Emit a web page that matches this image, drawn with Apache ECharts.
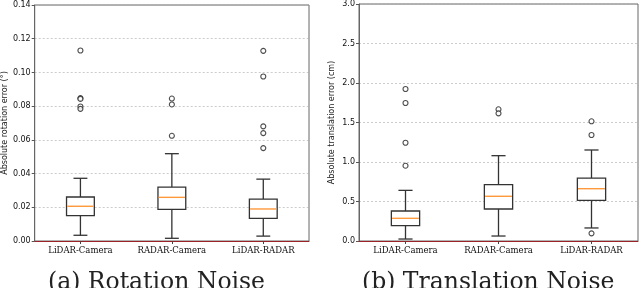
<!DOCTYPE html>
<html><head><meta charset="utf-8">
<script src="https://cdn.jsdelivr.net/npm/echarts@6/dist/echarts.min.js"></script>
<style>html,body{margin:0;padding:0;background:#fff}#c{width:640px;height:288px}</style>
</head><body><div id="c"></div>
<script>
var categories = ['LiDAR-Camera', 'RADAR-Camera', 'LiDAR-RADAR'];
// [lower whisker, Q1, median, Q3, upper whisker]
var rotStats = [
  [0.0034, 0.0151, 0.0206, 0.0261, 0.0372],
  [0.0016, 0.0188, 0.0259, 0.0320, 0.0518],
  [0.0029, 0.0134, 0.0190, 0.0249, 0.0367]
];
var rotOutliers = [
  [0, 0.1130], [0, 0.0848], [0, 0.0843], [0, 0.0798], [0, 0.0784],
  [1, 0.0845], [1, 0.0810], [1, 0.0624],
  [2, 0.1128], [2, 0.0976], [2, 0.0680], [2, 0.0640], [2, 0.0551]
];
var transStats = [
  [0.025, 0.194, 0.287, 0.380, 0.641],
  [0.063, 0.405, 0.566, 0.713, 1.080],
  [0.165, 0.515, 0.662, 0.797, 1.152]
];
var transOutliers = [
  [0, 1.924], [0, 1.747], [0, 1.244], [0, 0.953],
  [1, 1.667], [1, 1.616],
  [2, 1.515], [2, 1.342], [2, 0.097]
];
var rotTicks = [0, 0.02, 0.04, 0.06, 0.08, 0.10, 0.12, 0.14];
var transTicks = [0, 0.5, 1.0, 1.5, 2.0, 2.5, 3.0];

var chart = echarts.init(document.getElementById('c'), null, {renderer: 'canvas'});

function boxRender(params, api) {
  var i = api.value(0);
  var lo = api.coord([i, api.value(1)]);
  var q1 = api.coord([i, api.value(2)]);
  var md = api.coord([i, api.value(3)]);
  var q3 = api.coord([i, api.value(4)]);
  var hi = api.coord([i, api.value(5)]);
  var band = api.size([1, 0])[0];
  var bw = band * 0.152;
  var cw = band * 0.076;
  var x = lo[0];
  var ls = {stroke: '#333', lineWidth: 1.3, fill: null};
  return {
    type: 'group',
    children: [
      {type: 'line', shape: {x1: x, y1: lo[1], x2: x, y2: q1[1]}, style: ls},
      {type: 'line', shape: {x1: x, y1: q3[1], x2: x, y2: hi[1]}, style: ls},
      {type: 'line', shape: {x1: x - cw, y1: lo[1], x2: x + cw, y2: lo[1]}, style: ls},
      {type: 'line', shape: {x1: x - cw, y1: hi[1], x2: x + cw, y2: hi[1]}, style: ls},
      {type: 'rect', shape: {x: x - bw, y: q3[1], width: 2 * bw, height: q1[1] - q3[1]}, style: {stroke: '#333', lineWidth: 1.3, fill: '#fff'}},
      {type: 'line', shape: {x1: x - bw + 0.7, y1: md[1], x2: x + bw - 0.7, y2: md[1]}, style: {stroke: '#ff9a3c', lineWidth: 1.4}}
    ]
  };
}

function withIndex(stats) {
  return stats.map(function (s, i) { return [i].concat(s); });
}

function yAxis(grid, max, interval, name, fmt) {
  return {
    gridIndex: grid, type: 'value', min: 0, max: max, interval: interval,
    name: name, nameLocation: 'middle', nameGap: grid === 0 ? 24 : 23,
    nameTextStyle: {fontFamily: 'DejaVu Sans', fontSize: 8, color: '#222'},
    axisLine: {show: true, lineStyle: {color: '#666', width: 1}},
    axisTick: {show: true, length: 3, lineStyle: {color: '#555'}},
    axisLabel: {fontFamily: 'DejaVu Sans', fontSize: 8, color: '#111', margin: 4, formatter: fmt},
    splitLine: {show: true, lineStyle: {color: '#aaa', type: [2, 2], width: 0.6}}
  };
}

function xAxis(grid) {
  return {
    gridIndex: grid, type: 'category', data: categories,
    axisLine: {show: true, onZero: false, lineStyle: {color: '#9b2226', width: 1}},
    axisTick: {show: true, alignWithLabel: true, length: 3, lineStyle: {color: '#444'}},
    axisLabel: {fontFamily: 'DejaVu Serif', fontSize: 8.5, color: '#111', margin: 5, interval: 0},
    splitLine: {show: false}
  };
}

chart.setOption({
  animation: false,
  grid: [
    {left: 33, top: 5, width: 276, height: 236, show: true, borderColor: '#666', borderWidth: 1},
    {left: 359, top: 4, width: 279, height: 237, show: true, borderColor: '#666', borderWidth: 1}
  ],
  xAxis: [xAxis(0), xAxis(1)],
  yAxis: [
    yAxis(0, 0.14, 0.02, 'Absolute rotation error (°)', function (v) { return v.toFixed(2); }),
    yAxis(1, 3.0, 0.5, 'Absolute translation error (cm)', function (v) { return v.toFixed(1); })
  ],
  series: [
    {type: 'custom', xAxisIndex: 0, yAxisIndex: 0, renderItem: boxRender, data: withIndex(rotStats), encode: {x: 0, y: [1, 2, 3, 4, 5]}, z: 3},
    {type: 'custom', xAxisIndex: 1, yAxisIndex: 1, renderItem: boxRender, data: withIndex(transStats), encode: {x: 0, y: [1, 2, 3, 4, 5]}, z: 3},
    {type: 'scatter', xAxisIndex: 0, yAxisIndex: 0, data: rotOutliers, symbol: 'circle', symbolSize: 5,
      itemStyle: {color: '#fff', borderColor: '#222', borderWidth: 1.1}, z: 4},
    {type: 'scatter', xAxisIndex: 1, yAxisIndex: 1, data: transOutliers, symbol: 'circle', symbolSize: 5,
      itemStyle: {color: '#fff', borderColor: '#222', borderWidth: 1.1}, z: 4}
  ],
  graphic: [
    {type: 'text', left: 48, top: 271, style: {text: '(a) Rotation Noise', fontFamily: 'DejaVu Serif', fontSize: 23.5, fill: '#222'}},
    {type: 'text', left: 362, top: 271, style: {text: '(b) Translation Noise', fontFamily: 'DejaVu Serif', fontSize: 23.5, fill: '#222'}}
  ]
});
</script>
</body></html>
